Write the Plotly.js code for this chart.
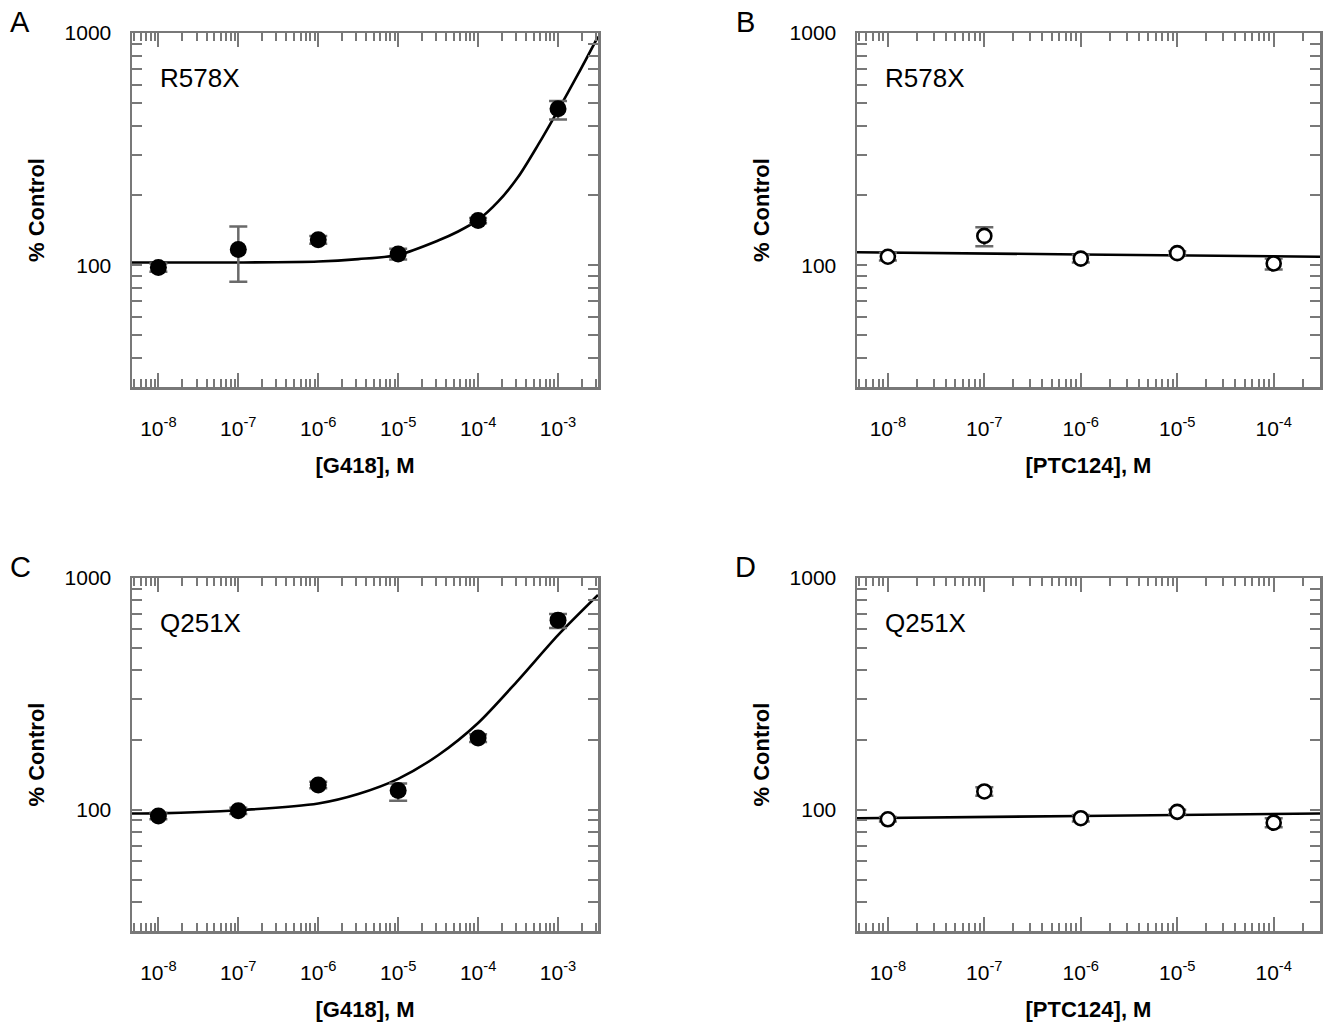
<!DOCTYPE html>
<html>
<head>
<meta charset="utf-8">
<script src="https://cdn.plot.ly/plotly-3.0.1.min.js"></script>
<style>html,body{margin:0;padding:0;background:#fff;}#chart{width:1323px;height:1022px;}</style>
</head>
<body>
<div id="chart"></div>
<script>
// ---- data (concentration exponents, % control values) ----
const doseExpA = [-8, -7, -6, -5, -4, -3];
const valA = [98, 117, 129, 112, 156, 472];
const errPlusA = [4, 30, 5, 6, 4, 38];
const errMinusA = [4, 32, 5, 6, 4, 48];
const fitExpA = [-8.33, -8, -7, -6, -5.5, -5, -4.5, -4.25, -4, -3.75, -3.5, -3.25, -3, -2.75, -2.5];
const fitValA = [103, 103, 103, 104, 106.5, 111, 128, 140, 157, 188, 240, 330, 465, 665, 965];

const doseExpB = [-8, -7, -6, -5, -4];
const valB = [109, 134, 107, 113, 102];
const errPlusB = [4, 12, 4, 2, 5];
const errMinusB = [4, 13, 4, 2, 6];
const fitExpB = [-8.32, -6, -3.52];
const fitValB = [114, 111.5, 109];

const doseExpC = [-8, -7, -6, -5, -4, -3];
const valC = [94, 99, 128, 121, 204, 658];
const errPlusC = [3, 3, 4, 9, 8, 42];
const errMinusC = [3, 3, 4, 11.5, 8, 50];
const fitExpC = [-8.33, -8, -7, -6, -5.5, -5, -4.5, -4, -3.5, -3, -2.5];
const fitValC = [96.4, 96.5, 99.5, 106.5, 117, 136, 172, 237, 362, 567, 845];

const doseExpD = [-8, -7, -6, -5, -4];
const valD = [91, 120, 92, 98, 88];
const errPlusD = [2, 5, 3, 2, 4];
const errMinusD = [2, 5, 3, 2, 4];
const fitExpD = [-8.32, -6, -3.52];
const fitValD = [92, 94, 96.4];

const xTickExpG418 = [-8, -7, -6, -5, -4, -3];
const xTickExpPTC = [-8, -7, -6, -5, -4];
const yTickVals = [100, 1000];
const yTickText = ['100', '1000'];
const panelLetters = ['A', 'B', 'C', 'D'];
const mutantLabels = ['R578X', 'R578X', 'Q251X', 'Q251X'];
const xTitles = ['[G418], M', '[PTC124], M', '[G418], M', '[PTC124], M'];
const yTitle = '% Control';

// ---- helpers ----
const pow10 = a => a.map(e => Math.pow(10, e));
const supText = a => a.map(e => '10<sup>' + String(e) + '</sup>');
const FONT = 'Liberation Sans, Arial, Helvetica, sans-serif';
const AX = '#787878';
const ERR = '#6a6a6a';

function pointsTrace(xa, ya, exps, vals, ep, em, filled) {
  return {
    type: 'scatter', mode: 'markers', xaxis: xa, yaxis: ya,
    x: pow10(exps), y: vals,
    error_y: {type: 'data', array: ep, arrayminus: em, visible: true, color: ERR, thickness: 2.5, width: 9},
    marker: filled ? {size: 17, color: '#000', line: {width: 0}} :
                     {size: 14, color: '#fff', line: {width: 2.6, color: '#000'}},
    hoverinfo: 'x+y', showlegend: false
  };
}
function fitTrace(xa, ya, exps, vals) {
  return {
    type: 'scatter', mode: 'lines', xaxis: xa, yaxis: ya,
    x: pow10(exps), y: vals,
    line: {color: '#000', width: 2.6, shape: 'spline', smoothing: 0.8},
    hoverinfo: 'skip', showlegend: false
  };
}

const data = [
  fitTrace('x', 'y', fitExpA, fitValA),
  pointsTrace('x', 'y', doseExpA, valA, errPlusA, errMinusA, true),
  fitTrace('x2', 'y2', fitExpB, fitValB),
  pointsTrace('x2', 'y2', doseExpB, valB, errPlusB, errMinusB, false),
  fitTrace('x3', 'y3', fitExpC, fitValC),
  pointsTrace('x3', 'y3', doseExpC, valC, errPlusC, errMinusC, true),
  fitTrace('x4', 'y4', fitExpD, fitValD),
  pointsTrace('x4', 'y4', doseExpD, valD, errPlusD, errMinusD, false)
];

const W = 1323, H = 1022;
const colPx = [[132, 598], [857, 1320]];
const rowPx = [[33, 387], [578, 931]];
const xDom = c => [colPx[c][0] / W, colPx[c][1] / W];
const yDom = r => [1 - rowPx[r][1] / H, 1 - rowPx[r][0] / H];

function xAxis(c, r, i) {
  const g418 = c === 0;
  const tv = g418 ? xTickExpG418 : xTickExpPTC;
  return {
    type: 'log', domain: xDom(c), anchor: i === 1 ? 'y' : 'y' + i,
    range: g418 ? [-8.33, -2.5] : [-8.32, -3.52],
    tickmode: 'array', tickvals: pow10(tv), ticktext: supText(tv),
    ticks: 'inside', ticklen: 14, tickwidth: 2, tickcolor: AX,
    minor: {ticks: 'inside', ticklen: 8, tickwidth: 2, tickcolor: AX, dtick: 'D1', showgrid: false},
    showline: true, linecolor: AX, linewidth: 2.5, mirror: 'allticks',
    showgrid: false, zeroline: false,
    tickfont: {family: FONT, size: 21, color: '#000'},
    ticklabelstandoff: 21,
    title: {text: '<b>' + xTitles[i - 1] + '</b>', font: {family: FONT, size: 22, color: '#000'}, standoff: 19},
    automargin: false
  };
}
function yAxis(c, r, i) {
  return {
    type: 'log', domain: yDom(r), anchor: i === 1 ? 'x' : 'x' + i,
    range: [Math.log10(30), 3],
    tickmode: 'array', tickvals: yTickVals, ticktext: yTickText,
    ticks: 'inside', ticklen: 10, tickwidth: 2, tickcolor: AX,
    minor: {ticks: 'inside', ticklen: 10, tickwidth: 2, tickcolor: AX, dtick: 'D1', showgrid: false},
    showline: true, linecolor: AX, linewidth: 2.5, mirror: 'allticks',
    showgrid: false, zeroline: false,
    tickfont: {family: FONT, size: 21, color: '#000'},
    ticklabelstandoff: 14,
    title: {text: '<b>' + yTitle + '</b>', font: {family: FONT, size: 22, color: '#000'}, standoff: 14},
    automargin: false
  };
}

const layout = {
  width: W, height: H,
  margin: {l: 0, r: 0, t: 0, b: 0},
  paper_bgcolor: '#fff', plot_bgcolor: '#fff',
  font: {family: FONT, color: '#000'},
  annotations: []
};
const cells = [[0, 0], [1, 0], [0, 1], [1, 1]];
const letterPos = [[20, 22], [745, 22], [20, 567], [745, 567]];
cells.forEach(([c, r], k) => {
  const i = k + 1;
  const sx = i === 1 ? '' : String(i);
  layout['xaxis' + sx] = xAxis(c, r, i);
  layout['yaxis' + sx] = yAxis(c, r, i);
  layout.annotations.push({
    xref: 'paper', yref: 'paper', x: letterPos[k][0] / W, y: 1 - letterPos[k][1] / H,
    xanchor: 'center', yanchor: 'middle', showarrow: false,
    text: panelLetters[k], font: {family: FONT, size: 29, color: '#000'}
  });
  layout.annotations.push({
    xref: 'paper', yref: 'paper', x: (colPx[c][0] + 26) / W, y: 1 - (rowPx[r][0] + 45) / H,
    xanchor: 'left', yanchor: 'middle', showarrow: false,
    text: mutantLabels[k], font: {family: FONT, size: 26, color: '#000'}
  });
});

Plotly.newPlot('chart', data, layout, {staticPlot: true});
</script>
</body>
</html>
